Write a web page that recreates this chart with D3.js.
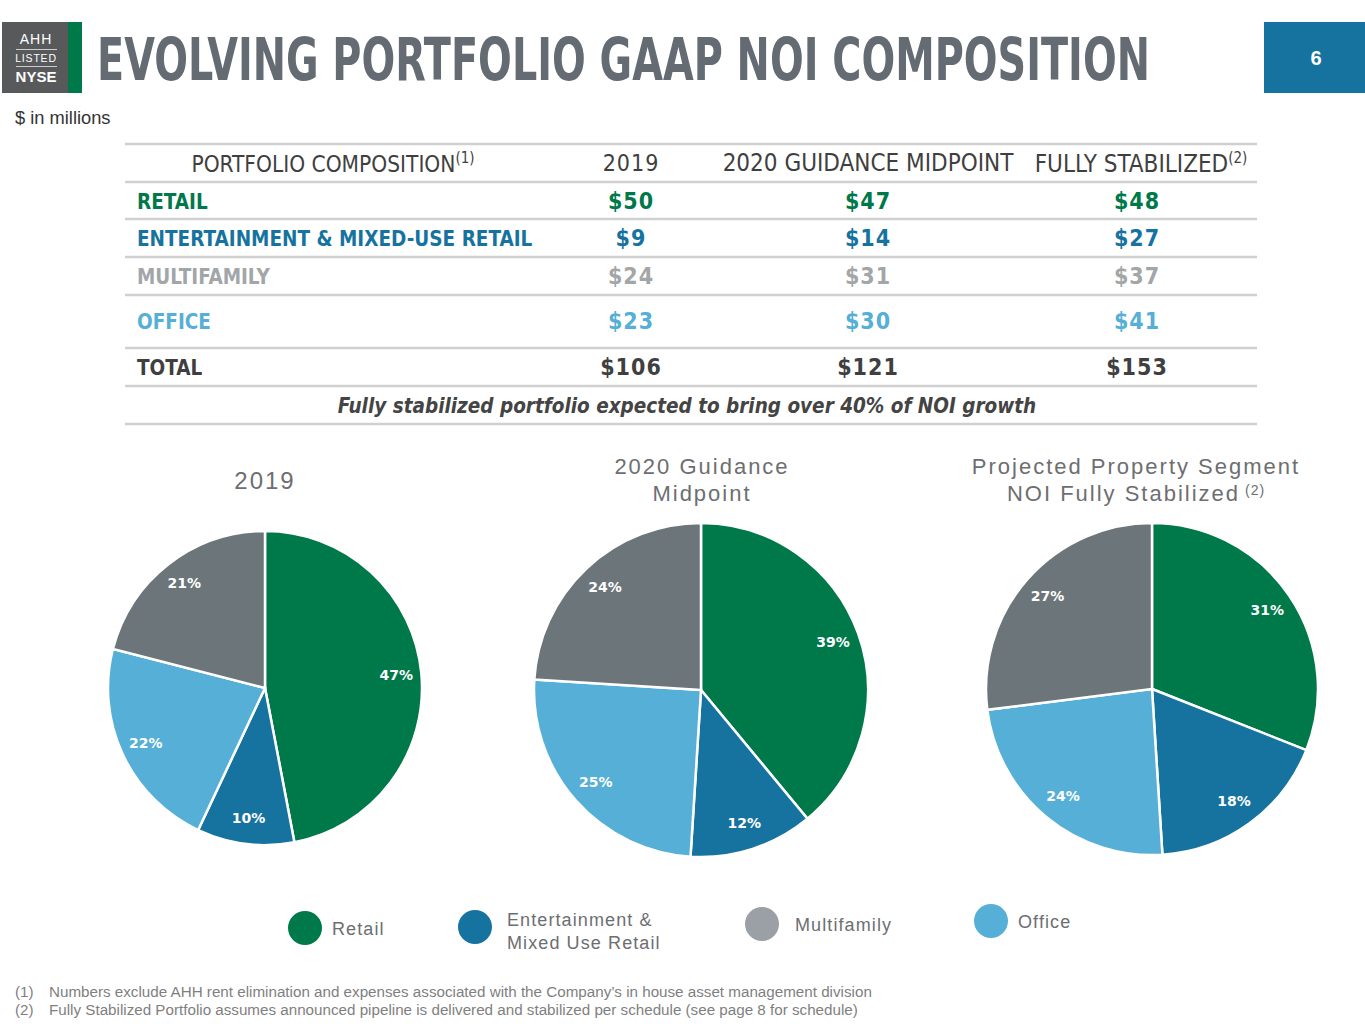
<!DOCTYPE html>
<html>
<head>
<meta charset="utf-8">
<script src="https://cdn.jsdelivr.net/npm/d3@7"></script>
<style>
  body { margin: 0; background: #fff; }
  svg { display: block; }
  .cond { font-family: "Liberation Sans Narrow", "DejaVu Sans Condensed", "Liberation Sans", sans-serif; }
  .sans { font-family: "Liberation Sans", Arial, sans-serif; }
</style>
</head>
<body>
<svg width="1365" height="1024"></svg>
<script>
// table data ($ in millions)
const categories = ["RETAIL", "ENTERTAINMENT & MIXED-USE RETAIL", "MULTIFAMILY", "OFFICE"];
const columns = ["2019", "2020 GUIDANCE MIDPOINT", "FULLY STABILIZED"];
const noi2019 = [50, 9, 24, 23];
const noi2020 = [47, 14, 31, 30];
const noiStabilized = [48, 27, 37, 41];
const totals = [106, 121, 153];

// pie shares (%), same category order as the table
const legendNames = ["Retail", "Entertainment & Mixed Use Retail", "Multifamily", "Office"];
const share2019 = [47, 10, 21, 22];
const share2020 = [39, 12, 24, 25];
const shareStabilized = [31, 18, 27, 24];
const pieTitles = [["2019"], ["2020 Guidance", "Midpoint"], ["Projected Property Segment", "NOI Fully Stabilized"]];
const pieOrder = [0, 1, 3, 2]; // retail, entertainment, office, multifamily clockwise

const textColors = ["#00794a", "#1673a0", "#a2a6a9", "#56afd6"];
const pieColors = ["#00794a", "#1673a0", "#6c757a", "#56afd6"];
const legendColors = ["#00794a", "#1673a0", "#9aa0a6", "#56afd6"];

const svg = d3.select("svg");

// ---- header ----
const logo = svg.append("g");
logo.append("rect").attr("x", 2).attr("y", 22).attr("width", 67).attr("height", 71).attr("fill", "#58595b");
logo.append("rect").attr("x", 68).attr("y", 22).attr("width", 14).attr("height", 71).attr("fill", "#00794a");
logo.append("text").attr("class", "sans").attr("x", 36).attr("y", 44).attr("text-anchor", "middle")
  .attr("fill", "#fff").attr("font-size", 14).attr("letter-spacing", 1).text("AHH");
logo.append("line").attr("x1", 16).attr("x2", 57).attr("y1", 49.5).attr("y2", 49.5).attr("stroke", "#ccc").attr("stroke-width", 1);
logo.append("text").attr("class", "sans").attr("x", 36).attr("y", 62).attr("text-anchor", "middle")
  .attr("fill", "#fff").attr("font-size", 10.5).attr("letter-spacing", 0.8).text("LISTED");
logo.append("line").attr("x1", 16).attr("x2", 57).attr("y1", 66.5).attr("y2", 66.5).attr("stroke", "#ccc").attr("stroke-width", 1);
logo.append("text").attr("class", "sans").attr("x", 36).attr("y", 82).attr("text-anchor", "middle")
  .attr("fill", "#fff").attr("font-size", 15).attr("font-weight", "bold").text("NYSE");

// title squeezed horizontally to the width it has in the slide
const title = svg.append("text").attr("class", "cond")
  .attr("font-size", 58).attr("font-weight", "bold").attr("fill", "#646b73")
  .text("EVOLVING PORTFOLIO GAAP NOI COMPOSITION");
const titleLen = title.node().getComputedTextLength();
title.attr("transform", `translate(97,80) scale(${1053 / titleLen},1)`);

svg.append("rect").attr("x", 1264).attr("y", 22).attr("width", 101).attr("height", 71).attr("fill", "#1673a0");
svg.append("text").attr("class", "sans").attr("x", 1316).attr("y", 65).attr("text-anchor", "middle")
  .attr("font-size", 20).attr("font-weight", "bold").attr("fill", "#fff").text("6");

svg.append("text").attr("class", "sans").attr("x", 15).attr("y", 124)
  .attr("font-size", 18.3).attr("fill", "#333").text("$ in millions");

// ---- table ----
const tableLeft = 125, tableRight = 1257;
const lineYs = [144, 182, 219, 257, 295, 348, 386, 424];
lineYs.forEach(y => {
  svg.append("line").attr("x1", tableLeft).attr("x2", tableRight).attr("y1", y).attr("y2", y)
    .attr("stroke", "#d0d0d0").attr("stroke-width", 2.5);
});
const colX = d3.scaleOrdinal().domain(columns).range([631, 868, 1137]);

const header = svg.append("text").attr("class", "cond").attr("x", 333).attr("y", 172)
  .attr("text-anchor", "middle").attr("font-size", 22.5).attr("font-weight", 500).attr("fill", "#3f3f3f");
header.append("tspan").text("PORTFOLIO COMPOSITION");
header.append("tspan").attr("dy", -9).attr("font-size", 15).text("(1)");

const headerSizes = [23, 24, 24];
columns.forEach((c, i) => {
  const t = svg.append("text").attr("class", "cond").attr("x", colX(c) + (i === 2 ? 4 : 0)).attr("y", 171 + (i === 2 ? 1 : 0))
    .attr("text-anchor", "middle").attr("font-size", headerSizes[i]).attr("fill", "#3f3f3f");
  if (i === 0) t.attr("letter-spacing", 1);
  t.append("tspan").text(c);
  if (i === 2) t.append("tspan").attr("dy", -9).attr("font-size", 15).text("(2)");
});

const rowY = [209, 246, 284, 329];
const series = [noi2019, noi2020, noiStabilized];
categories.forEach((cat, r) => {
  svg.append("text").attr("class", "cond").attr("x", 137).attr("y", rowY[r])
    .attr("font-size", 20.5).attr("font-weight", "bold").attr("fill", textColors[r]).text(cat);
  series.forEach((s, ci) => {
    svg.append("text").attr("class", "cond").attr("x", colX(columns[ci])).attr("y", rowY[r])
      .attr("text-anchor", "middle").attr("font-size", 23).attr("font-weight", "bold")
      .attr("letter-spacing", 1).attr("fill", textColors[r]).text("$" + s[r]);
  });
});
svg.append("text").attr("class", "cond").attr("x", 137).attr("y", 375)
  .attr("font-size", 20.5).attr("font-weight", "bold").attr("fill", "#3f3f3f").text("TOTAL");
totals.forEach((v, ci) => {
  svg.append("text").attr("class", "cond").attr("x", colX(columns[ci])).attr("y", 375)
    .attr("text-anchor", "middle").attr("font-size", 23).attr("font-weight", "bold")
    .attr("letter-spacing", 1).attr("fill", "#3f3f3f").text("$" + v);
});
svg.append("text").attr("class", "cond").attr("x", 687).attr("y", 413)
  .attr("text-anchor", "middle").attr("font-size", 20.5).attr("font-weight", "bold")
  .attr("font-style", "italic").attr("fill", "#444")
  .text("Fully stabilized portfolio expected to bring over 40% of NOI growth");

// ---- pies ----
const pies = [
  { data: share2019, cx: 265, cy: 688, r: 157, tx: 265, ty: [489], fs: 24 },
  { data: share2020, cx: 701, cy: 690, r: 167, tx: 702, ty: [474, 501], fs: 22 },
  { data: shareStabilized, cx: 1152, cy: 689, r: 166, tx: 1136, ty: [474, 501], fs: 22 }
];
const pie = d3.pie().sort(null).value(d => d.v);

pies.forEach((p, pi) => {
  const g = svg.append("g").attr("transform", `translate(${p.cx},${p.cy})`);
  const arc = d3.arc().innerRadius(0).outerRadius(p.r);
  const labelArc = d3.arc().innerRadius(p.r * 0.84).outerRadius(p.r * 0.84);
  const arcs = pie(pieOrder.map(i => ({ i: i, v: p.data[i] })));
  g.selectAll("path").data(arcs).enter().append("path")
    .attr("d", arc).attr("fill", d => pieColors[d.data.i])
    .attr("stroke", "#fff").attr("stroke-width", 2.5);
  g.selectAll("text").data(arcs).enter().append("text")
    .attr("transform", d => `translate(${labelArc.centroid(d)})`)
    .attr("text-anchor", "middle").attr("dy", "0.3em")
    .attr("font-family", "DejaVu Sans, sans-serif").attr("font-weight", "bold")
    .attr("font-size", 14).attr("fill", "#fff")
    .text(d => d.data.v + "%");

  const lines = pieTitles[pi];
  lines.forEach((line, li) => {
    const t = svg.append("text").attr("class", "sans").attr("x", p.tx).attr("y", p.ty[li])
      .attr("text-anchor", "middle").attr("font-size", p.fs)
      .attr("letter-spacing", 2).attr("fill", "#6d6e71").text(line);
    if (pi === 2 && li === 1) t.append("tspan").attr("dy", -6).attr("font-size", 14).attr("letter-spacing", 1).text(" (2)");
  });
});

// ---- legend ----
const legendPos = [[305, 928], [475, 927], [762, 924], [991, 921]];
const legendTextDx = [27, 32, 33, 27];
legendNames.forEach((name, i) => {
  const [x, y] = legendPos[i];
  svg.append("circle").attr("cx", x).attr("cy", y).attr("r", 17).attr("fill", legendColors[i]);
  const words = i === 1 ? ["Entertainment &", "Mixed Use Retail"] : [name];
  words.forEach((w, wi) => {
    svg.append("text").attr("class", "sans").attr("x", x + legendTextDx[i])
      .attr("y", words.length > 1 ? y + 4 + (wi - 0.5) * 23 : y + 1)
      .attr("dy", "0.35em").attr("font-size", 18).attr("letter-spacing", 1.1)
      .attr("fill", "#6d6e71").text(w);
  });
});

// ---- footnotes ----
const footnotes = [
  "Numbers exclude AHH rent elimination and expenses associated with the Company\u2019s in house asset management division",
  "Fully Stabilized Portfolio assumes announced pipeline is delivered and stabilized per schedule (see page 8 for schedule)"
];
footnotes.forEach((f, i) => {
  svg.append("text").attr("class", "sans").attr("x", 15).attr("y", 997 + i * 18)
    .attr("font-size", 15.2).attr("fill", "#7f7f7f").text(`(${i + 1})`);
  svg.append("text").attr("class", "sans").attr("x", 49).attr("y", 997 + i * 18)
    .attr("font-size", 15.2).attr("fill", "#7f7f7f").text(f);
});
</script>
</body>
</html>
